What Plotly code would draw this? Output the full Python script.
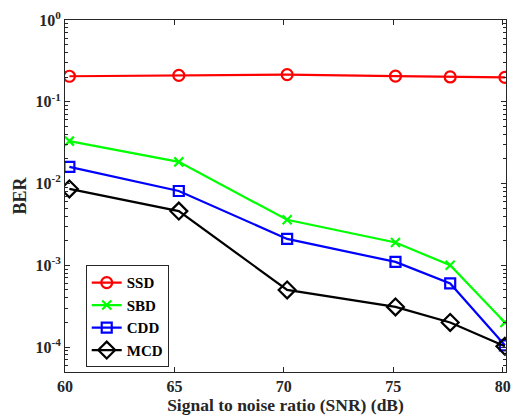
import plotly.graph_objects as go

snr = [60.2, 65.2, 70.15, 75.1, 77.6, 80.1]
ssd = [0.205, 0.21, 0.215, 0.206, 0.201, 0.199]
sbd = [0.033, 0.0184, 0.0036, 0.0019, 0.001, 0.0002]
cdd = [0.016, 0.0081, 0.0021, 0.0011, 0.0006, 0.000105]
mcd = [0.0086, 0.0046, 0.0005, 0.00031, 0.0002, 0.000102]
names = ["SSD", "SBD", "CDD", "MCD"]
colors = ["#ff0000", "#00ff00", "#0000ff", "#000000"]
symbols = ["circle-open", "x-thin-open", "square-open", "diamond-open"]
sizes = [11, 9, 10, 13]
xticks = [60, 65, 70, 75, 80]
yticks = [1, 0.1, 0.01, 0.001, 0.0001]
yticktext = ["10<sup>0</sup>", "10<sup>-1</sup>", "10<sup>-2</sup>", "10<sup>-3</sup>", "10<sup>-4</sup>"]

SERIF = "Liberation Serif, Times New Roman, serif"
AX = "#262626"

fig = go.Figure()
for name, ys, c, s, sz in zip(names, [ssd, sbd, cdd, mcd], colors, symbols, sizes):
    fig.add_trace(go.Scatter(
        x=snr, y=ys, name="<b>" + name + "</b>", mode="lines+markers",
        line=dict(color=c, width=2.2),
        marker=dict(symbol=s, size=sz, color=c, line=dict(color=c, width=2.2)),
    ))

fig.update_layout(
    width=517, height=418, autosize=False,
    margin=dict(l=65, r=6, t=20, b=46),
    paper_bgcolor="white", plot_bgcolor="white",
    font=dict(family=SERIF, size=16, color=AX),
    showlegend=True,
    legend=dict(
        x=0.047, y=0.303, xanchor="left", yanchor="top",
        bgcolor="white", bordercolor=AX, borderwidth=1,
        font=dict(family=SERIF, size=15, color="#000000"),
        tracegroupgap=0, itemwidth=30,
    ),
)
fig.update_xaxes(
    range=[60, 80.15], tickvals=xticks, ticktext=[f"<b>{v}</b>" for v in xticks],
    ticks="inside", ticklen=5, tickcolor=AX,
    showline=True, linecolor=AX, linewidth=1, mirror="ticks",
    showgrid=False, zeroline=False,
    tickfont=dict(size=16, family=SERIF, color=AX),
    title=dict(text="<b>Signal to noise ratio (SNR) (dB)</b>", standoff=3,
               font=dict(size=17.5, family=SERIF, color=AX)),
)
fig.update_yaxes(
    type="log", range=[-4.305, 0],
    tickvals=yticks, ticktext=["<b>" + t + "</b>" for t in yticktext],
    ticks="inside", ticklen=5, tickcolor=AX,
    minor=dict(ticks="inside", ticklen=3, tickcolor=AX, showgrid=False, dtick="D1"),
    showline=True, linecolor=AX, linewidth=1, mirror="ticks",
    showgrid=False, zeroline=False,
    tickfont=dict(size=16, family=SERIF, color=AX),
    title=dict(text="<b>BER</b>", standoff=4,
               font=dict(size=18, family=SERIF, color=AX)),
)
fig.write_html("out.html")
